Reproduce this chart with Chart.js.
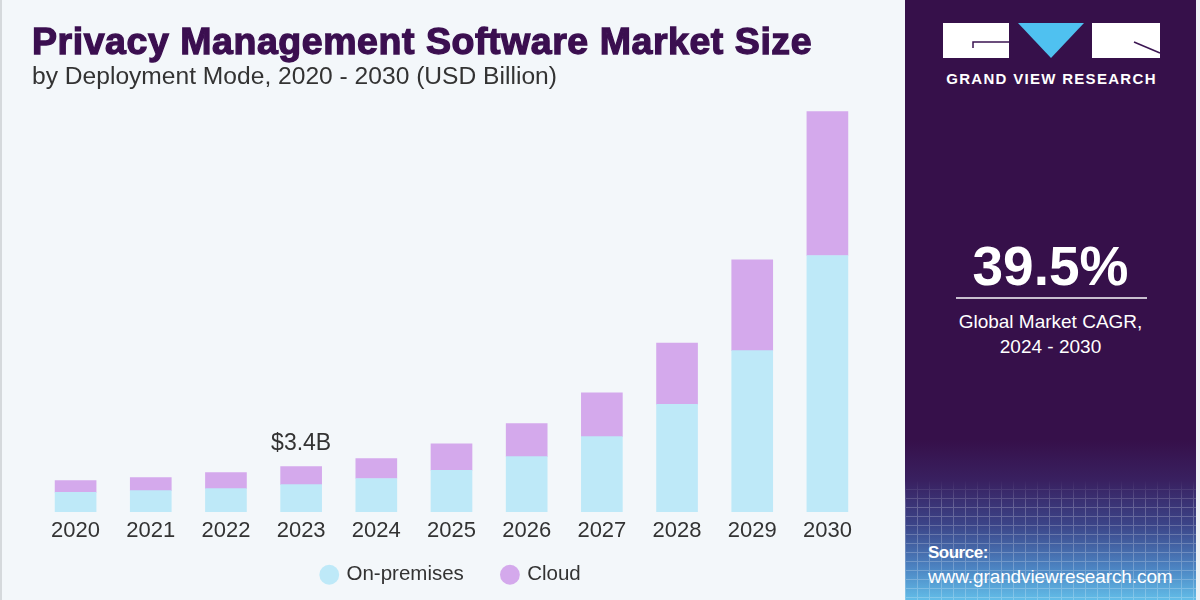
<!DOCTYPE html>
<html>
<head>
<meta charset="utf-8">
<script src="https://cdn.jsdelivr.net/npm/chart.js@4.4.1/dist/chart.umd.min.js"></script>
<style>
  html,body{margin:0;padding:0;}
  body{width:1200px;height:600px;position:relative;overflow:hidden;background:#f3f7fa;font-family:"Liberation Sans",Arial,sans-serif;}
  #leftEdge{position:absolute;left:0;top:0;width:2px;height:600px;background:#d5d9dc;}
  #rightEdge{position:absolute;left:1196px;top:0;width:4px;height:600px;background:#eef2f5;}
  #wrap{position:absolute;left:0;top:0;width:905px;height:600px;}
  #title{position:absolute;left:32px;top:20px;font-family:"Liberation Sans",Arial,sans-serif;font-weight:900;font-size:37.5px;color:#3b0f50;white-space:nowrap;letter-spacing:0.55px;-webkit-text-stroke:1.3px #3b0f50;}
  #subtitle{position:absolute;left:32px;top:62px;font-size:24.6px;color:#333;white-space:nowrap;}
  #panel{position:absolute;left:905px;top:0;width:291px;height:600px;
    background:linear-gradient(to bottom,#36104a 0px,#36104a 440px,#392060 480px,#3b4488 525px,#4c84c2 568px,#62bde8 600px);overflow:hidden;}
  #grid{position:absolute;left:0;top:480px;width:291px;height:120px;opacity:0.22;
    -webkit-mask-image:linear-gradient(to bottom,transparent 0px,#000 25px,#000 120px);
    background-image:repeating-linear-gradient(to right,#fff 0px,#fff 1px,transparent 1px,transparent 12px),
    repeating-linear-gradient(to bottom,#fff 0px,#fff 1px,transparent 1px,transparent 9px);}
  .ptxt{position:absolute;color:#fff;white-space:nowrap;}
</style>
</head>
<body>
<div id="leftEdge"></div>
<div id="wrap"><canvas id="c" width="905" height="600"></canvas></div>
<div id="title">Privacy Management Software Market Size</div>
<div id="subtitle">by Deployment Mode, 2020 - 2030 (USD Billion)</div>
<div id="panel">
  <svg width="291" height="100" style="position:absolute;left:0;top:0">
    <rect x="38" y="23" width="66" height="35" fill="#ffffff"/>
    <polyline points="68,48 68,42 104,42" fill="none" stroke="#3b1552" stroke-width="1.5"/>
    <polygon points="113,23 179,23 146,58" fill="#4fc1f0"/>
    <rect x="187" y="23" width="68" height="35" fill="#ffffff"/>
    <line x1="229" y1="42" x2="255" y2="53" stroke="#3b1552" stroke-width="1.5"/>
  </svg>
  <div class="ptxt" style="left:38px;top:70px;width:217px;text-align:center;font-weight:bold;font-size:15px;letter-spacing:1.3px;">GRAND VIEW RESEARCH</div>
  <div class="ptxt" style="left:0;top:234px;width:291px;text-align:center;font-weight:bold;font-size:55px;">39.5%</div>
  <div style="position:absolute;left:51px;top:297px;width:191px;height:2px;background:#c9bfd0;"></div>
  <div class="ptxt" style="left:0;top:309px;width:291px;text-align:center;font-size:19px;line-height:25px;">Global Market CAGR,<br>2024 - 2030</div>
  <div id="grid"></div>
  <div class="ptxt" style="left:23px;top:543px;font-weight:bold;font-size:17px;letter-spacing:-0.5px;">Source:</div>
  <div class="ptxt" style="left:23px;top:566px;font-size:19px;letter-spacing:-0.1px;">www.grandviewresearch.com</div>
</div>
<div id="rightEdge"></div>
<script>
const years = ["2020","2021","2022","2023","2024","2025","2026","2027","2028","2029","2030"];
const onPremises = [1.46,1.60,1.75,2.05,2.50,3.12,4.14,5.63,8.04,12.05,19.16];
const cloud = [0.89,0.97,1.19,1.34,1.49,1.97,2.46,3.28,4.58,6.79,10.75];
const seriesNames = ["On-premises","Cloud"];
const annotationText = "$3.4B";
const annotationIndex = 3;

const annotate = {
  id:'annotate',
  afterDatasetsDraw(chart){
    const meta = chart.getDatasetMeta(1);
    const bar = meta.data[annotationIndex];
    const ctx = chart.ctx;
    ctx.save();
    ctx.font = '23px "Liberation Sans", Arial, sans-serif';
    ctx.fillStyle = '#333333';
    ctx.textAlign = 'center';
    ctx.textBaseline = 'alphabetic';
    ctx.fillText(annotationText, bar.x, bar.y - 17);
    ctx.restore();
  }
};

const chart = new Chart(document.getElementById('c'), {
  type:'bar',
  data:{
    labels: years,
    datasets:[
      {label:seriesNames[0], data:onPremises, backgroundColor:'#bee9f8', borderWidth:0},
      {label:seriesNames[1], data:cloud, backgroundColor:'#d4a9ec', borderWidth:0}
    ]
  },
  options:{
    responsive:false,
    animation:false,
    layout:{padding:{left:38,right:40,top:97,bottom:5}},
    datasets:{bar:{barThickness:41}},
    scales:{
      x:{stacked:true, grid:{display:false, drawTicks:false}, border:{display:false},
         ticks:{color:'#333333', padding:6, font:{family:'"Liberation Sans", Arial, sans-serif', size:22}},
         afterFit(scale){ scale.height = 30.5; }},
      y:{stacked:true, display:false, min:0, max:31}
    },
    plugins:{
      tooltip:{enabled:false},
      legend:{position:'bottom',
        labels:{usePointStyle:true, pointStyle:'circle', boxWidth:14, boxHeight:14, padding:22, color:'#333333',
          font:{family:'"Liberation Sans", Arial, sans-serif', size:20.5},
          generateLabels(ch){
            const items = Chart.defaults.plugins.legend.labels.generateLabels(ch);
            items.forEach((it,i)=>{ if(i < items.length-1) it.text = it.text + '   '; });
            return items;
          }}}
    }
  },
  plugins:[annotate]
});
</script>
</body>
</html>
